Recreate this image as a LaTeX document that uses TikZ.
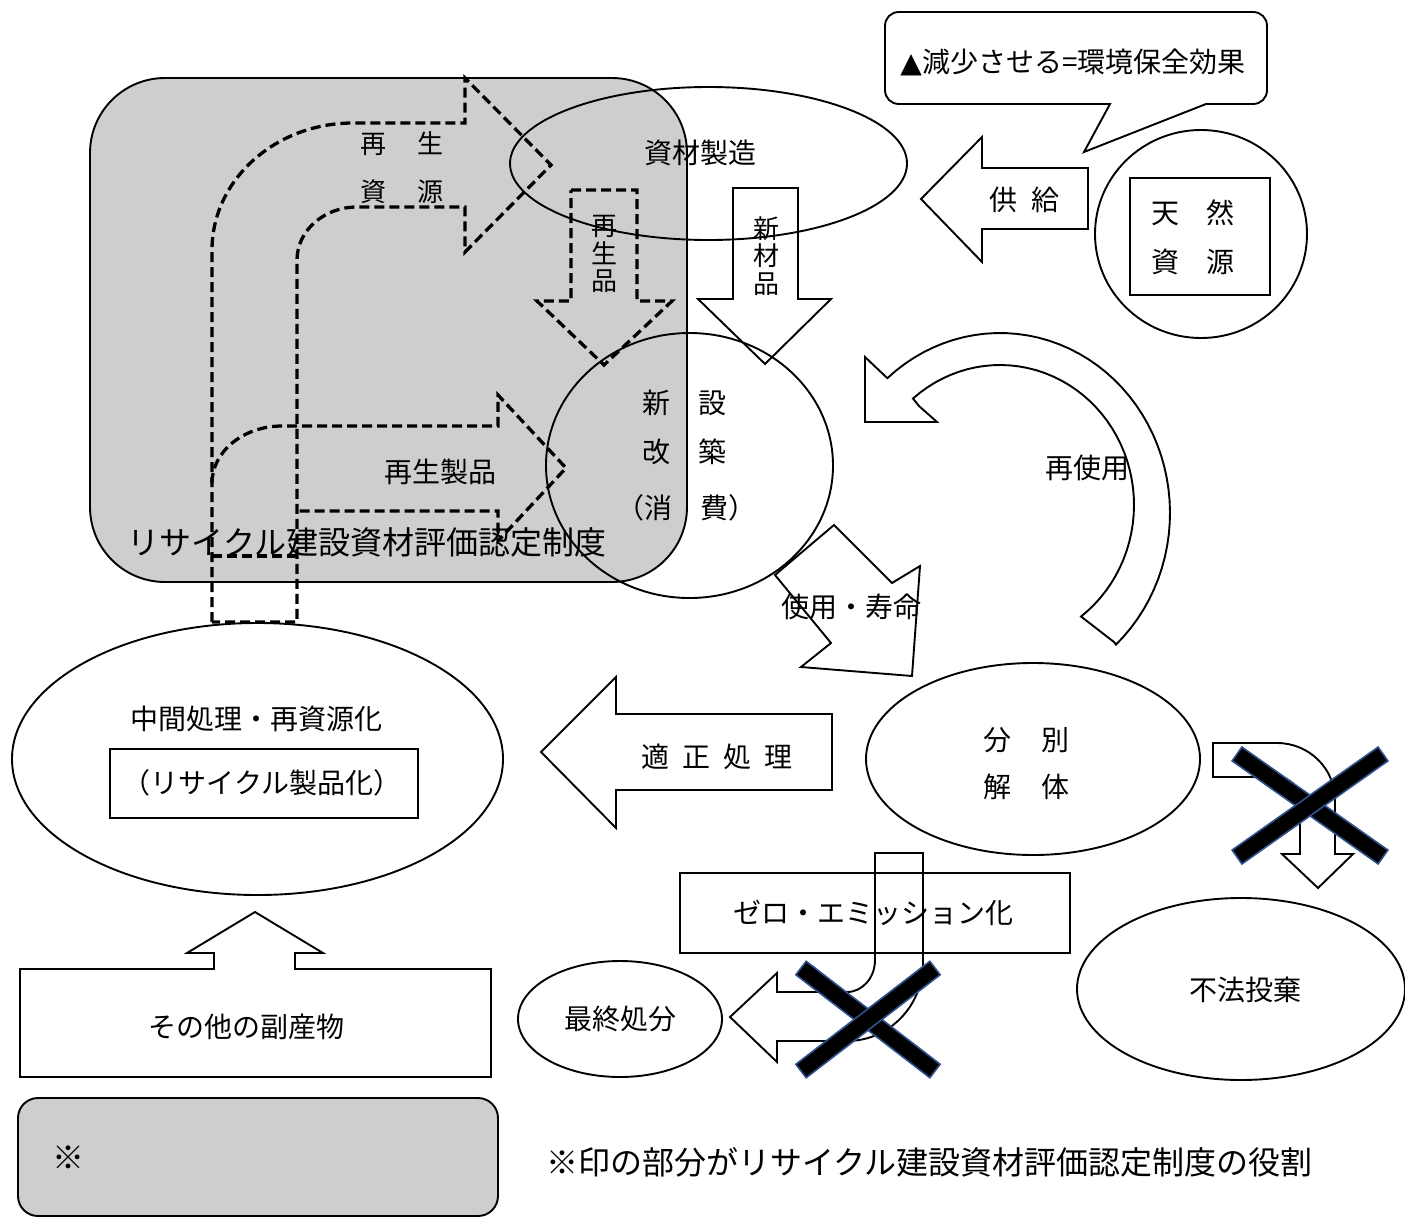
\documentclass[tikz,border=0pt]{standalone}
\usepackage{fontspec}
\setmainfont{Noto Sans CJK JP}
\newfontfamily\symfont{DejaVu Sans}
\usetikzlibrary{shapes.geometric,calc}
\definecolor{regiongray}{RGB}{207,205,208}
\definecolor{xblue}{RGB}{47,82,143}
\begin{document}
\begin{tikzpicture}[x=1pt,y=-1pt, line join=miter,
 sline/.style={draw=black, line width=1.9pt},
 dline/.style={draw=black, line width=3.3pt, dash pattern=on 10pt off 5pt},
 lbl/.style={inner sep=0pt, font=\fontsize{28}{32}\selectfont},
 mid/.style={inner sep=0pt, font=\fontsize{26}{30}\selectfont},
 big/.style={inner sep=0pt, font=\fontsize{32}{36}\selectfont},
 oval/.style={ellipse, draw=black, line width=1.9pt, inner sep=0pt},
 box/.style={rectangle, draw=black, line width=1.9pt, inner sep=0pt},
 xbar/.style={fill=black, draw=xblue, line width=1.6pt, line join=miter},
 vert/.style={inner sep=0pt, align=center, font=\fontsize{26}{27.5}\selectfont}]

\useasboundingbox (0,0) rectangle (1405,1218);
\fill[white] (0,0) rectangle (1405,1218);

% gray region of the certification system
\node[box, fill=regiongray, rounded corners=75pt, minimum width=597pt, minimum height=504pt] (region) at (388.5,330) {};
\node[big] (regionlbl) at (367,542) {リサイクル建設資材評価認定制度};

% dashed arrow: recycled resources
\draw[dline] (212,622) -- (212,250) .. controls (212,179.9) and (275.2,123) .. (353,123) -- (465,123) -- (465,78) -- (551,165) -- (465,252) -- (465,207) -- (357,207) .. controls (323.9,207) and (297,230.7) .. (297,260) -- (297,622) -- cycle;
% dashed arrow: recycled products
\draw[dline] (212,483) .. controls (212,451.5) and (243.4,426) .. (282,426) -- (498,426) -- (498,395) -- (566,468) -- (498,541) -- (498,511) -- (297,511);
\draw[dline] (212,556) -- (297,556);
\node[mid] (r1) at (402,144) {再\hspace{31pt}生};
\node[mid] (r2) at (402,192) {資\hspace{31pt}源};
\node[lbl] (seihin) at (440,472) {再生製品};

% dashed arrow: recycled goods
\draw[dline] (571,190) -- (637,190) -- (637,301) -- (672,301) -- (604,365) -- (537,301) -- (571,301) -- cycle;
\node[vert] (saiseihin) at (604,254) {再\\生\\品};

% material production
\node[oval, minimum width=397pt, minimum height=153pt] (seizo) at (708.5,163.5) {};
\node[lbl] (seizolbl) at (700,153) {資材製造};

% new material arrow
\draw[sline] (733,188) -- (798,188) -- (798,299) -- (831,299) -- (765,364) -- (698,299) -- (733,299) -- cycle;
\node[vert] (shinzai) at (766,256) {新\\材\\品};

% construction circle
\node[oval, minimum width=287pt, minimum height=265pt] (shinsetsu) at (689.5,465.5) {};
\node[lbl] (l1) at (684,403) {新\hspace{28pt}設};
\node[lbl] (l2) at (684,452) {改\hspace{28pt}築};
\node[lbl] (l3) at (686,508) {（消\hspace{28pt}費）};

% supply arrow
\draw[sline] (1088,168) -- (982,168) -- (982,137) -- (921,199) -- (982,262) -- (982,229) -- (1088,229) -- cycle;
\node[lbl] (kyokyu) at (1024,200) {供\hspace{14pt}給};

% speech bubble
\draw[sline] (899,12) -- (1253,12) .. controls (1261,12) and (1267,18) .. (1267,26) -- (1267,90) .. controls (1267,98) and (1261,104) .. (1253,104) -- (1206,104) -- (1084,152) -- (1110,104) -- (899,104) .. controls (891,104) and (885,98) .. (885,90) -- (885,26) .. controls (885,18) and (891,12) .. (899,12) -- cycle;
\node[lbl] (bubbletext) at (1073,62) {{\symfont ▲}減少させる=環境保全効果};

% natural resources
\node[oval, minimum width=212pt, minimum height=208pt] (tennen) at (1201,234) {};
\node[box, line width=1.5pt, minimum width=140pt, minimum height=117pt] (tenbox) at (1200,236.5) {};
\node[lbl] (t1) at (1193,213) {天\hspace{27pt}然};
\node[lbl] (t2) at (1193,262) {資\hspace{27pt}源};

% reuse curved arrow
\draw[sline] (865,357) -- (865,422) -- (937,422) -- (919,406)
  -- plot[domain=-130.5:52.8, samples=50, variable=\t] ({1000+134*cos(\t)},{505+140*sin(\t)})
  -- (1114,642)
  -- plot[domain=47:-131.5, samples=50, variable=\t] ({1000+170*cos(\t)},{513+180*sin(\t)})
  -- cycle;
\node[lbl] (saishiyo) at (1087,468) {再使用};

% use / lifetime arrow
\draw[sline] (775,575) -- (834,525) -- (892,583) -- (920,566) -- (912,676) -- (801,667) -- (831,643) -- cycle;
\node[lbl] (jumyo) at (851,607) {使用・寿命};

% separate demolition
\node[oval, minimum width=334pt, minimum height=192pt] (bunbetsu) at (1033,759) {};
\node[lbl] (b1) at (1026,740) {分\hspace{30pt}別};
\node[lbl] (b2) at (1026,787) {解\hspace{30pt}体};

% proper treatment arrow
\draw[sline] (832,714) -- (616,714) -- (616,677) -- (541,752) -- (616,828) -- (616,790) -- (832,790) -- cycle;
\node[lbl] (tekisei) at (717,757) {適\hspace{13pt}正\hspace{13pt}処\hspace{13pt}理};

% intermediate processing
\node[oval, minimum width=491pt, minimum height=272pt] (chukan) at (257.5,759) {};
\node[lbl] (c1) at (256,719) {中間処理・再資源化};
\node[box, minimum width=308pt, minimum height=69pt] (cbox) at (264,783.5) {};
\node[lbl] (c2) at (262,783) {（リサイクル製品化）};

% other by-products
\draw[sline] (20,969) -- (214,969) -- (214,953) -- (187,953) -- (255,912) -- (323,953) -- (295,953) -- (295,969) -- (491,969) -- (491,1077) -- (20,1077) -- cycle;
\node[lbl] (sonota) at (246,1027) {その他の副産物};

% zero emission
\node[box, minimum width=390pt, minimum height=80pt] (zero) at (875,913) {};
\node[lbl] (zerolbl) at (873,913) {ゼロ・エミッション化};

% U arrow to final disposal
\draw[sline] (875,853) -- (923,853) -- (923,963) .. controls (923,1006) and (889,1041) .. (847,1041) -- (777,1041) -- (777,1062) -- (730,1017) -- (777,973) -- (777,992) -- (847,992) .. controls (862.5,992) and (875,977.7) .. (875,960) -- cycle;

% final disposal
\node[oval, minimum width=204pt, minimum height=116pt] (saishu) at (620,1019) {};
\node[lbl] (saishulbl) at (620,1019) {最終処分};

% bent arrow to illegal dumping
\draw[sline] (1213,743) -- (1277,743) .. controls (1309,743) and (1335,768.5) .. (1335,800) -- (1335,854) -- (1353,854) -- (1318,888) -- (1282,854) -- (1300,854) -- (1300,800) .. controls (1300,787.3) and (1289.7,777) .. (1277,777) -- (1213,777) -- cycle;

% illegal dumping
\node[oval, minimum width=328pt, minimum height=182pt] (fuho) at (1241,989) {};
\node[lbl] (fuholbl) at (1245,990) {不法投棄};

% crosses
\coordinate (x1a) at (801,968); \coordinate (x1b) at (935,1071);
\coordinate (x1c) at (935,968); \coordinate (x1d) at (801,1071);
\coordinate (x2a) at (1237,754); \coordinate (x2b) at (1383,857);
\coordinate (x2c) at (1383,754); \coordinate (x2d) at (1237,857);
\foreach \p/\q in {x1a/x1b, x1c/x1d, x2a/x2b, x2c/x2d}{
  \draw[xbar] ($(\p)!8.5pt!90:(\q)$) -- ($(\q)!8.5pt!-90:(\p)$) -- ($(\q)!8.5pt!90:(\p)$) -- ($(\p)!8.5pt!-90:(\q)$) -- cycle;
}

% legend
\node[box, fill=regiongray, rounded corners=20pt, minimum width=480pt, minimum height=118pt] (legend) at (258,1157) {};
\node[big] (kome) at (68,1158) {※};
\node[big, anchor=west] (note) at (546,1162) {※印の部分がリサイクル建設資材評価認定制度の役割};
\end{tikzpicture}
\end{document}
